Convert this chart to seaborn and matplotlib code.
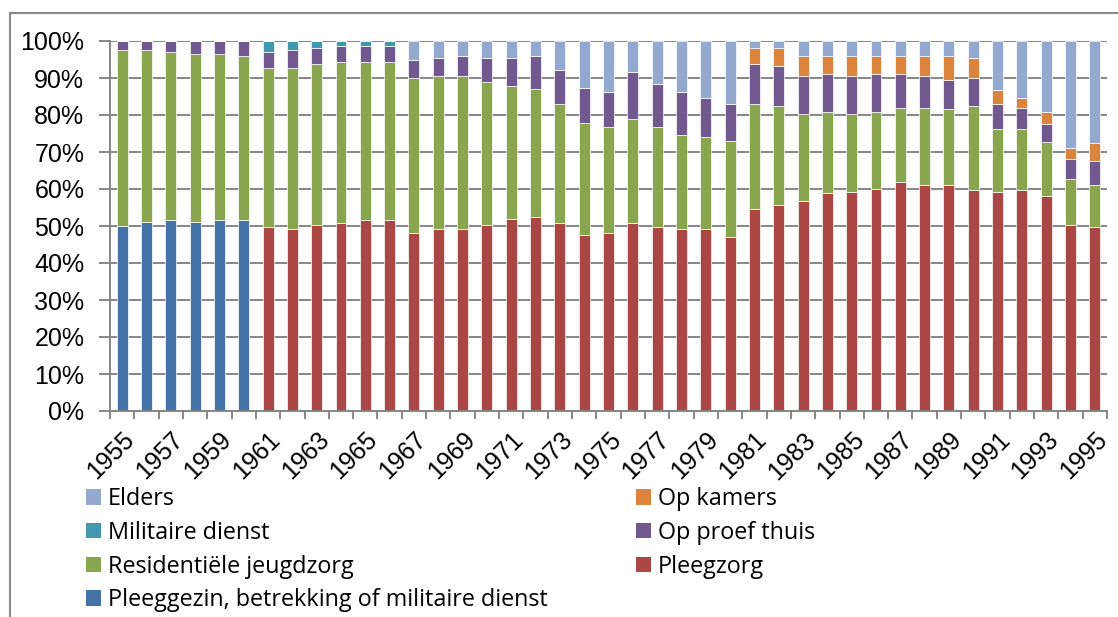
import numpy as np
import pandas as pd
import matplotlib
matplotlib.use("Agg")
import matplotlib.pyplot as plt
import seaborn as sns
from matplotlib.patches import Patch
from matplotlib.lines import Line2D
from matplotlib.ticker import PercentFormatter

years = list(range(1955, 1996))

# shares per year (%)
pleeggezin = [50.1, 51.2, 51.7, 51.2, 51.7, 51.7,
              0, 0, 0, 0, 0, 0, 0, 0, 0, 0, 0, 0, 0, 0, 0, 0, 0, 0, 0, 0,
              0, 0, 0, 0, 0, 0, 0, 0, 0, 0, 0, 0, 0, 0, 0]
pleegzorg = [0, 0, 0, 0, 0, 0,
             49.7, 49.2, 50.2, 50.8, 51.7, 51.7,
             48.1, 49.2, 49.2, 50.3, 51.9, 52.4, 50.8, 47.6, 48.1, 50.8, 49.7, 49.2, 49.2, 47.0,
             54.6, 55.6, 56.7, 59.0, 59.1, 60.1, 61.8, 61.2, 61.2, 59.6, 59.1, 59.6, 58.0, 50.2, 49.7]
residentieel = [47.5, 46.4, 45.4, 45.3, 44.8, 44.3,
                43.1, 43.6, 43.6, 43.6, 42.7, 42.7,
                42.0, 41.4, 41.4, 38.7, 36.0, 34.5, 32.3, 30.2, 28.6, 28.0, 27.0, 25.4, 24.8, 25.9,
                28.5, 26.9, 23.7, 21.9, 21.3, 20.8, 20.2, 20.8, 20.3, 22.9, 17.0, 16.5, 14.8, 12.4, 11.3]
op_proef = [2.4, 2.4, 2.9, 3.5, 3.5, 4.0,
            4.3, 4.8, 4.3, 4.3, 4.3, 4.3,
            4.8, 4.8, 5.4, 6.4, 7.5, 9.1, 9.1, 9.6, 9.6, 12.9, 11.8, 11.7, 10.7, 10.2,
            10.7, 10.8, 10.2, 10.2, 10.2, 10.2, 9.1, 8.6, 8.0, 7.6, 7.0, 5.9, 4.9, 5.4, 6.5]
militaire = [0, 0, 0, 0, 0, 0,
             2.9, 2.4, 1.9, 1.3, 1.3, 1.3,
             0, 0, 0, 0, 0, 0, 0, 0, 0, 0, 0, 0, 0, 0,
             0, 0, 0, 0, 0, 0, 0, 0, 0, 0, 0, 0, 0, 0, 0]
op_kamers = [0, 0, 0, 0, 0, 0,
             0, 0, 0, 0, 0, 0,
             0, 0, 0, 0, 0, 0, 0, 0, 0, 0, 0, 0, 0, 0,
             4.3, 4.8, 5.4, 4.9, 5.4, 4.9, 4.9, 5.4, 6.5, 5.3, 3.7, 2.7, 3.2, 3.2, 4.8]
elders = [0, 0, 0, 0, 0, 0,
          0, 0, 0, 0, 0, 0,
          5.1, 4.6, 4.0, 4.6, 4.6, 4.0, 7.8, 12.6, 13.7, 8.3, 11.5, 13.7, 15.3, 16.9,
          1.9, 1.9, 4.0, 4.0, 4.0, 4.0, 4.0, 4.0, 4.0, 4.6, 13.2, 15.3, 19.1, 28.8, 27.7]

# bottom to top
names = ["Pleeggezin, betrekking of militaire dienst", "Pleegzorg",
         "Residentiële jeugdzorg", "Op proef thuis", "Militaire dienst",
         "Op kamers", "Elders"]
colors = ["#4572A7", "#AA4643", "#89A54E", "#71588F", "#4198AF", "#DB843D", "#93A9CF"]
series = [pleeggezin, pleegzorg, residentieel, op_proef, militaire, op_kamers, elders]

df = pd.concat([pd.DataFrame({"year": years, "value": s, "groep": n})
                for n, s in zip(names, series)], ignore_index=True)

grid_col = "#868686"

fig = plt.figure(figsize=(11.18, 6.17), dpi=100)
ax = fig.add_axes([110 / 1118, 1 - 411 / 617, 997 / 1118, 370 / 617])

# seaborn stacks the first hue level on top, so reverse the order
sns.histplot(data=df, x="year", weights="value", hue="groep", hue_order=names[::-1],
             palette=colors[::-1], multiple="fill", discrete=True, shrink=0.45,
             alpha=1, linewidth=0.5, edgecolor="white", legend=False, ax=ax)

ax.set_xlim(1954.5, 1995.5)
ax.set_ylim(0, 1)
ax.set_xlabel("")
ax.set_ylabel("")
ax.set_axisbelow(True)
ax.yaxis.set_major_locator(plt.MultipleLocator(0.1))
ax.yaxis.set_major_formatter(PercentFormatter(1.0, decimals=0))
ax.grid(axis="y", color=grid_col, linewidth=1.4)
ax.grid(axis="x", visible=False)

ax.set_xticks(years[::2])
ax.set_xticklabels([str(y) for y in years[::2]], rotation=45, ha="right",
                   rotation_mode="anchor", fontsize=18, family="Liberation Sans")
ax.set_xticks(np.arange(1954.5, 1996, 1), minor=True)
ax.tick_params(axis="x", which="major", length=0, pad=12)
ax.tick_params(axis="x", which="minor", length=6, width=1.4, color=grid_col, direction="out")
ax.tick_params(axis="y", length=8, width=1.4, color=grid_col, labelsize=18, pad=10.5)
for lab in ax.get_yticklabels():
    lab.set_family("Liberation Sans")

for side in ["top", "right"]:
    ax.spines[side].set_visible(False)
for side in ["left", "bottom"]:
    ax.spines[side].set_color(grid_col)
    ax.spines[side].set_linewidth(1.4)

# legend, Excel style in two columns
handles = {n: Patch(facecolor=c, edgecolor="none") for n, c in zip(names, colors)}
left_items = ["Elders", "Militaire dienst", "Residentiële jeugdzorg",
              "Pleeggezin, betrekking of militaire dienst"]
right_items = ["Op kamers", "Op proef thuis", "Pleegzorg"]
leg_kw = dict(frameon=False, loc="upper left", prop={"family": "Open Sans", "size": 16.8},
              handlelength=0.65, handleheight=0.65, handletextpad=0.3,
              labelspacing=0.42, borderpad=0, borderaxespad=0)
leg1 = fig.legend([handles[n] for n in left_items], left_items,
                  bbox_to_anchor=(86 / 1118, 1 - 487 / 617), **leg_kw)
leg2 = fig.legend([handles[n] for n in right_items], right_items,
                  bbox_to_anchor=(636 / 1118, 1 - 487 / 617), **leg_kw)

# outer chart frame
fig.add_artist(Line2D([10 / 1118, 1.0], [1 - 13 / 617, 1 - 13 / 617],
                      transform=fig.transFigure, color="#898989", linewidth=1.5))
fig.add_artist(Line2D([10 / 1118, 10 / 1118], [0, 1 - 13 / 617],
                      transform=fig.transFigure, color="#898989", linewidth=1.5))

fig.savefig("out.png", dpi=100)
